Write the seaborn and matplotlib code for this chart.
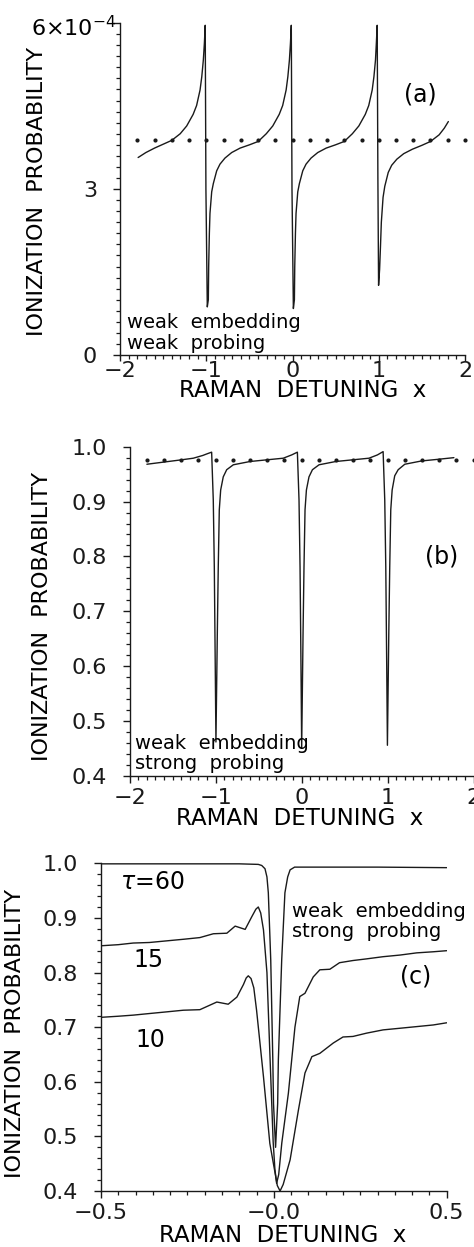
import matplotlib
matplotlib.use("Agg")
import matplotlib.pyplot as plt
import seaborn as sns
import pandas as pd
from matplotlib.ticker import MultipleLocator

# ---------------- data ----------------
# panel (a): ionization probability in units of 1e-4
a_x = [-1.79, -1.70, -1.60, -1.50, -1.40, -1.302, -1.227, -1.152, -1.112,
       -1.072, -1.052, -1.034, -1.022, -1.012,
       -1.004, -0.988, -0.976, -0.972, -0.964, -0.957, -0.937, -0.918,
       -0.879, -0.841, -0.783, -0.705, -0.608, -0.498, -0.398, -0.304,
       -0.229, -0.154, -0.114, -0.074, -0.054, -0.036, -0.024, -0.014,
       -0.006, 0.010, 0.022, 0.026, 0.034, 0.041, 0.061, 0.080, 0.119,
       0.157, 0.215, 0.293, 0.390, 0.500, 0.600, 0.694, 0.769, 0.844,
       0.884, 0.924, 0.944, 0.962, 0.972, 0.982,
       0.990, 0.998, 1.010, 1.020, 1.030, 1.050, 1.070, 1.110, 1.150,
       1.210, 1.290, 1.390, 1.500, 1.600, 1.700, 1.760, 1.807]
a_y = [3.57, 3.66, 3.74, 3.81, 3.88, 4.00, 4.14, 4.35, 4.51,
       4.79, 5.03, 5.33, 5.63, 5.96,
       3.0, 0.87, 1.00, 1.60, 2.20, 2.56, 2.95, 3.10,
       3.33, 3.45, 3.56, 3.66, 3.74, 3.80, 3.86, 4.00,
       4.14, 4.35, 4.51, 4.79, 5.03, 5.33, 5.63, 5.96,
       3.0, 0.84, 1.00, 1.60, 2.20, 2.56, 2.95, 3.10, 3.33,
       3.45, 3.56, 3.66, 3.74, 3.80, 3.86, 4.00, 4.14, 4.35,
       4.51, 4.79, 5.03, 5.33, 5.63, 5.96,
       3.2, 1.26, 1.55, 1.96, 2.40, 2.85, 3.05, 3.30, 3.43,
       3.54, 3.64, 3.72, 3.79, 3.86, 3.98, 4.10, 4.22]
a_dots_x = [-1.8, -1.6, -1.4, -1.2, -1.0, -0.8, -0.6, -0.4, -0.2, 0.0,
            0.2, 0.4, 0.6, 0.8, 1.0, 1.2, 1.4, 1.6, 1.8, 2.0]
a_level = 3.88

# panel (b)
b_x = [-1.80, -1.60, -1.40, -1.26, -1.15, -1.10, -1.047,
       -1.028, -1.016, -1.005, -0.997, -0.981, -0.970, -0.958, -0.942,
       -0.912, -0.872, -0.795, -0.600, -0.407, -0.214, -0.116, -0.050,
       -0.031, -0.019, -0.008, 0.000, 0.016, 0.027, 0.039, 0.055,
       0.085, 0.125, 0.202, 0.397, 0.590, 0.783, 0.881, 0.947,
       0.966, 0.978, 0.989, 0.997, 1.013, 1.024, 1.036, 1.052,
       1.082, 1.122, 1.199, 1.394, 1.587, 1.770]
b_y = [0.968, 0.972, 0.976, 0.979, 0.984, 0.987, 0.990,
       0.903, 0.781, 0.599, 0.462, 0.660, 0.781, 0.885, 0.921,
       0.945, 0.958, 0.967, 0.973, 0.976, 0.979, 0.985, 0.990,
       0.903, 0.781, 0.599, 0.451, 0.660, 0.781, 0.885, 0.921,
       0.945, 0.958, 0.967, 0.973, 0.976, 0.979, 0.985, 0.991,
       0.903, 0.781, 0.599, 0.456, 0.660, 0.781, 0.885, 0.921,
       0.947, 0.958, 0.968, 0.974, 0.977, 0.980]
b_dots_x = [-1.8, -1.6, -1.4, -1.2, -1.0, -0.8, -0.6, -0.4, -0.2, 0.0,
            0.2, 0.4, 0.6, 0.8, 1.0, 1.2, 1.4, 1.6, 1.8, 2.0]
b_level = 0.976

# panel (c): three pulse durations tau
c60_x = [-0.5, -0.3, -0.1, -0.045, -0.035, -0.0256, -0.02, -0.016, -0.009,
         -0.003, -0.001, 0.005, 0.011, 0.013, 0.0227, 0.032, 0.040, 0.047,
         0.06, 0.1, 0.3, 0.5]
c60_y = [0.999, 0.999, 0.999, 0.998, 0.996, 0.99, 0.975, 0.946, 0.823,
         0.64, 0.56, 0.48, 0.56, 0.64, 0.823, 0.946, 0.975, 0.988,
         0.993, 0.993, 0.993, 0.992]

c15_x = [-0.5, -0.45, -0.407, -0.36, -0.31, -0.26, -0.214, -0.175, -0.136,
         -0.112, -0.083, -0.064, -0.052, -0.045, -0.038, -0.03, -0.02,
         -0.012, -0.002, 0.003, 0.008, 0.014, 0.023, 0.042, 0.061, 0.075,
         0.09, 0.114, 0.133, 0.162, 0.19, 0.229, 0.268, 0.316, 0.365, 0.413,
         0.461, 0.5]
c15_y = [0.849, 0.851, 0.854, 0.855, 0.858, 0.861, 0.864, 0.871, 0.872,
         0.885, 0.879, 0.902, 0.916, 0.92, 0.909, 0.878, 0.80,
         0.66, 0.49, 0.44, 0.414, 0.43, 0.488, 0.579, 0.70, 0.756,
         0.762, 0.792, 0.805, 0.806, 0.818, 0.822, 0.825, 0.829, 0.832, 0.836,
         0.838, 0.840]

c10_x = [-0.5, -0.45, -0.407, -0.359, -0.31, -0.262, -0.214, -0.165, -0.132,
         -0.107, -0.088, -0.080, -0.074, -0.066, -0.058, -0.05, -0.03,
         -0.0116, 0.01, 0.018, 0.027, 0.047, 0.071, 0.09, 0.11, 0.133, 0.172,
         0.2, 0.229, 0.268, 0.316, 0.365, 0.413, 0.461, 0.5]
c10_y = [0.718, 0.72, 0.722, 0.725, 0.728, 0.731, 0.732, 0.746, 0.742,
         0.755, 0.778, 0.79, 0.794, 0.789, 0.772, 0.731, 0.609,
         0.487, 0.41, 0.40, 0.412, 0.457, 0.548, 0.616, 0.646, 0.652, 0.671,
         0.682, 0.683, 0.689, 0.695, 0.698, 0.701, 0.704, 0.708]

xlabel = "RAMAN  DETUNING  x"
ylabel = "IONIZATION  PROBABILITY"

# ---------------- style ----------------
sns.set_theme(style="ticks")
plt.rcParams["font.family"] = ["DejaVu Sans"]
plt.rcParams["mathtext.fontset"] = "dejavusans"
plt.rcParams["axes.linewidth"] = 1.0
for key in ["text.color", "axes.labelcolor", "xtick.color", "ytick.color",
            "axes.edgecolor"]:
    plt.rcParams[key] = "black"

fig = plt.figure(figsize=(4.74, 12.47), dpi=100)
axA = fig.add_axes([0.2532, 0.7153, 0.7278, 0.2662])
axB = fig.add_axes([0.2736, 0.3777, 0.7257, 0.2641])
axC = fig.add_axes([0.2131, 0.0449, 0.7293, 0.2628])

def style(ax):
    for s in ["top", "right"]:
        ax.spines[s].set_visible(False)
    for s in ["left", "bottom"]:
        ax.spines[s].set_color("k")
        ax.spines[s].set_linewidth(1.0)
    ax.tick_params(which="major", direction="out", length=5, width=1,
                   colors="k", labelsize=16)
    ax.tick_params(which="minor", direction="out", length=3, width=0.9,
                   colors="k")
    ax.tick_params(axis="y", which="major", pad=11.5)
    ax.set_facecolor("white")

# ---------------- panel (a) ----------------
sns.lineplot(x=a_x, y=a_y, ax=axA, color="k", lw=1.0, estimator=None, sort=False)
sns.scatterplot(x=a_dots_x, y=[a_level] * len(a_dots_x), ax=axA, color="k",
                s=9, linewidth=0, clip_on=False)
axA.set_xlim(-2, 2)
axA.set_ylim(0, 6)
style(axA)
axA.tick_params(axis="x", which="major", length=4, pad=0.5)
axA.set_xticks([-2, -1, 0, 1, 2], ["\u22122", "\u22121", "0", "1", "2"])
axA.set_yticks([0, 3, 6], ["0", "3", ""])
axA.xaxis.set_minor_locator(MultipleLocator(0.1))
axA.yaxis.set_minor_locator(MultipleLocator(0.2))
axA.text(-0.01, 0.985, r"$6{\times}10^{-4}$", transform=axA.transAxes,
         ha="right", va="center", fontsize=16)
axA.set_xlabel(xlabel, fontsize=16.5)
axA.set_ylabel(ylabel, fontsize=16)
axA.xaxis.set_label_coords(0.53, -0.072)
axA.yaxis.set_label_coords(-0.212, 0.494)
axA.text(1.48, 4.7, "(a)", fontsize=17, ha="center", va="center")
axA.text(0.02, 0.097, "weak  embedding", transform=axA.transAxes,
         fontsize=14, ha="left", va="center")
axA.text(0.02, 0.036, "weak  probing", transform=axA.transAxes,
         fontsize=14, ha="left", va="center")

# ---------------- panel (b) ----------------
sns.lineplot(x=b_x, y=b_y, ax=axB, color="k", lw=1.0, estimator=None, sort=False)
sns.scatterplot(x=b_dots_x, y=[b_level] * len(b_dots_x), ax=axB, color="k",
                s=9, linewidth=0, clip_on=False)
axB.set_xlim(-2, 2)
axB.set_ylim(0.4, 1.0)
style(axB)
axB.set_xticks([-2, -1, 0, 1, 2], ["\u22122", "\u22121", "0", "1", "2"])
axB.set_yticks([0.4, 0.5, 0.6, 0.7, 0.8, 0.9, 1.0],
               ["0.4", "0.5", "0.6", "0.7", "0.8", "0.9", "1.0"])
axB.xaxis.set_minor_locator(MultipleLocator(0.1))
axB.yaxis.set_minor_locator(MultipleLocator(0.02))
axB.set_xlabel(xlabel, fontsize=16.5)
axB.set_ylabel(ylabel, fontsize=16)
axB.xaxis.set_label_coords(0.495, -0.095)
axB.yaxis.set_label_coords(-0.226, 0.486)
axB.text(1.628, 0.80, "(b)", fontsize=17, ha="center", va="center")
axB.text(-1.94, 0.46, "weak  embedding", fontsize=14, ha="left", va="center")
axB.text(-1.94, 0.423, "strong  probing", fontsize=14, ha="left", va="center")

# ---------------- panel (c) ----------------
dfc = pd.concat([
    pd.DataFrame({"x": c60_x, "y": c60_y, "tau": "60"}),
    pd.DataFrame({"x": c15_x, "y": c15_y, "tau": "15"}),
    pd.DataFrame({"x": c10_x, "y": c10_y, "tau": "10"}),
])
sns.lineplot(data=dfc, x="x", y="y", hue="tau", ax=axC,
             palette={"60": "k", "15": "k", "10": "k"}, lw=1.0,
             estimator=None, sort=False, legend=False)
axC.set_xlim(-0.5, 0.5)
axC.set_ylim(0.4, 1.0)
style(axC)
axC.set_xticks([-0.5, 0.0, 0.5], ["\u22120.5", "\u22120.0", "0.5"])
axC.set_yticks([0.4, 0.5, 0.6, 0.7, 0.8, 0.9, 1.0],
               ["0.4", "0.5", "0.6", "0.7", "0.8", "0.9", "1.0"])
axC.xaxis.set_minor_locator(MultipleLocator(0.05))
axC.yaxis.set_minor_locator(MultipleLocator(0.02))
axC.set_xlabel(xlabel, fontsize=16.5)
axC.set_ylabel(ylabel, fontsize=16)
axC.xaxis.set_label_coords(0.526, -0.102)
axC.yaxis.set_label_coords(-0.22, 0.482)
axC.text(-0.445, 0.966, r"$\tau$=60", fontsize=17, ha="left", va="center")
axC.text(-0.407, 0.823, "15", fontsize=17, ha="left", va="center")
axC.text(-0.40, 0.676, "10", fontsize=17, ha="left", va="center")
axC.text(0.052, 0.911, "weak  embedding", fontsize=14, ha="left", va="center")
axC.text(0.052, 0.876, "strong  probing", fontsize=14, ha="left", va="center")
axC.text(0.411, 0.792, "(c)", fontsize=17, ha="center", va="center")

fig.savefig("out.png", dpi=100, facecolor="white")
